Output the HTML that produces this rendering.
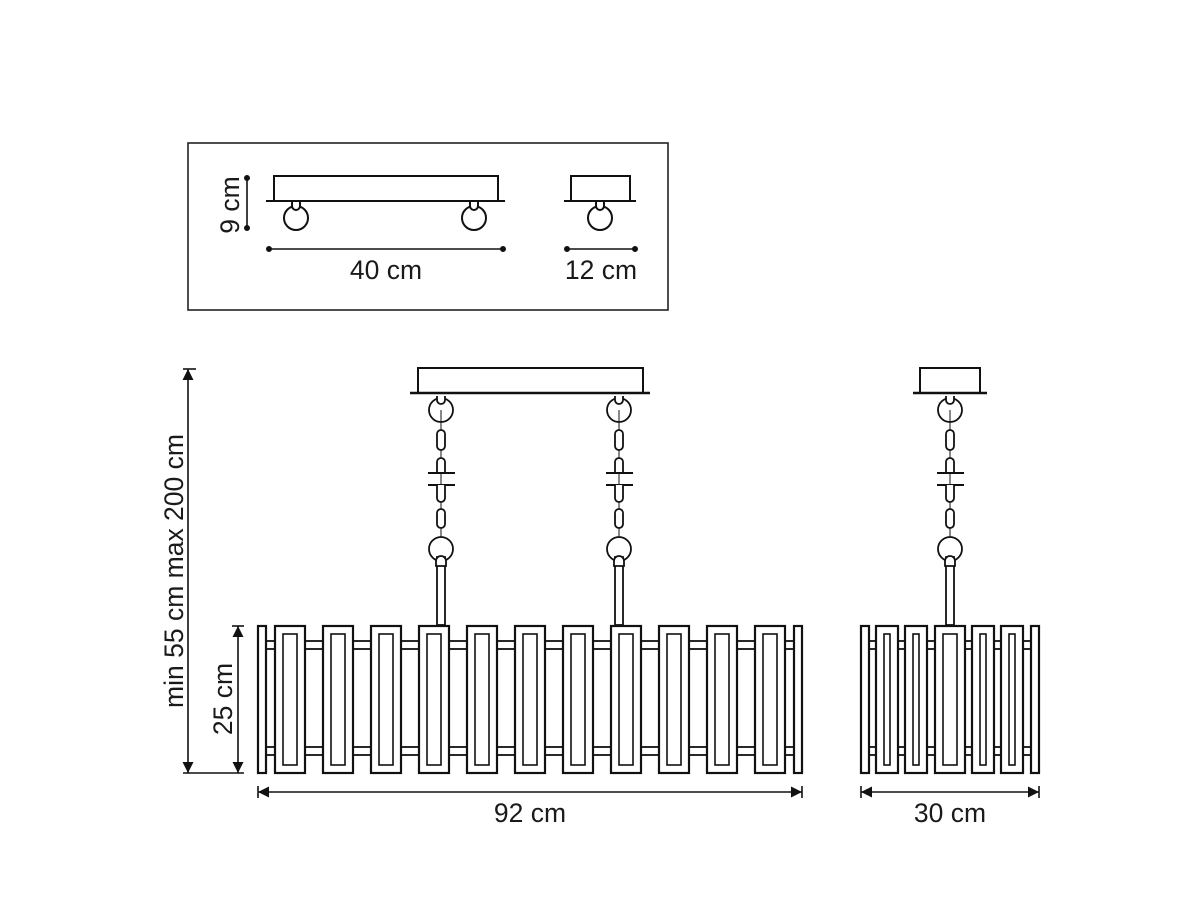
<!DOCTYPE html>
<html><head><meta charset="utf-8"><style>
html,body{margin:0;padding:0;background:#fff;}
svg{display:block;}
text{font-family:"Liberation Sans",sans-serif;fill:#1a1a1a;}
</style></head><body>
<svg width="1200" height="900" viewBox="0 0 1200 900" xmlns="http://www.w3.org/2000/svg">
<defs>
<marker id="ar" viewBox="0 0 10 10" refX="10" refY="5" markerWidth="17" markerHeight="11" markerUnits="userSpaceOnUse" orient="auto-start-reverse"><path d="M0,0 L10,5 L0,10 z" fill="#111"/></marker>
<g id="panel"><rect x="0" y="0" width="30" height="147" fill="#fff" stroke="#111" stroke-width="2.2"/><rect x="8" y="8" width="14" height="131" fill="none" stroke="#111" stroke-width="1.6"/></g>
<g id="spanel"><rect x="0" y="0" width="22" height="147" fill="#fff" stroke="#111" stroke-width="2.2"/><rect x="8" y="8" width="6" height="131" fill="none" stroke="#111" stroke-width="1.6"/></g>
<g id="chain" fill="none" stroke="#111" stroke-width="1.8">
<line x1="0" y1="398" x2="0" y2="625" stroke-width="1"/>
<circle cx="0" cy="410" r="12" fill="#fff"/>
<path d="M-4,396 v4 a4,4 0 0 0 8,0 v-4" fill="#fff"/>
<line x1="0" y1="410" x2="0" y2="430" stroke-width="1"/>
<rect x="-4" y="430" width="8" height="20" rx="4" fill="#fff"/>
<path d="M-4,473 v-11 a4,4 0 0 1 8,0 v11" fill="#fff"/>
<line x1="-13" y1="473" x2="14" y2="473" stroke-width="2"/>
<line x1="-13" y1="485" x2="14" y2="485" stroke-width="2"/>
<path d="M-4,485 v13 a4,4 0 0 0 8,0 v-13" fill="#fff"/>
<rect x="-4" y="509" width="8" height="19" rx="4" fill="#fff"/>
<circle cx="0" cy="549" r="12" fill="#fff"/>
<rect x="-4" y="557" width="8" height="68" fill="#fff"/>
<path d="M-5,566 v-5 a5,5 0 0 1 10,0 v5 z" fill="#fff"/>
</g>
</defs>

<!-- top box -->
<rect x="188" y="143" width="480" height="167" fill="none" stroke="#222" stroke-width="1.6"/>
<g fill="#fff" stroke="#111" stroke-width="2">
<rect x="274" y="176" width="224" height="25"/>
<line x1="266" y1="201" x2="505" y2="201"/>
<circle cx="296" cy="218" r="12"/><path d="M292,202 v4 a4,4 0 0 0 8,0 v-4"/>
<circle cx="474" cy="218" r="12"/><path d="M470,202 v4 a4,4 0 0 0 8,0 v-4"/>
<rect x="571" y="176" width="59" height="25"/>
<line x1="564" y1="201" x2="636" y2="201"/>
<circle cx="600" cy="218" r="12"/><path d="M596,202 v4 a4,4 0 0 0 8,0 v-4"/>
</g>
<g stroke="#111" stroke-width="1.6" fill="#111">
<line x1="247" y1="178" x2="247" y2="228"/><circle cx="247" cy="178" r="2.2"/><circle cx="247" cy="228" r="2.2"/>
<line x1="269" y1="249" x2="503" y2="249"/><circle cx="269" cy="249" r="2.2"/><circle cx="503" cy="249" r="2.2"/>
<line x1="567" y1="249" x2="635" y2="249"/><circle cx="567" cy="249" r="2.2"/><circle cx="635" cy="249" r="2.2"/>
</g>
<text x="386" y="279" font-size="26.5" text-anchor="middle">40 cm</text>
<text x="601" y="279" font-size="26.5" text-anchor="middle">12 cm</text>
<text transform="translate(239,205) rotate(-90)" font-size="26.5" text-anchor="middle">9 cm</text>

<!-- main canopy -->
<rect x="418" y="368" width="225" height="25" fill="#fff" stroke="#111" stroke-width="2"/>
<line x1="410" y1="393" x2="650" y2="393" stroke="#111" stroke-width="2.4"/>
<rect x="920" y="368" width="60" height="25" fill="#fff" stroke="#111" stroke-width="2"/>
<line x1="913" y1="393" x2="987" y2="393" stroke="#111" stroke-width="2.4"/>

<g fill="#fff" stroke="#111" stroke-width="1.8">
<rect x="262" y="641" width="536" height="8"/>
<rect x="262" y="747" width="536" height="8"/>
<rect x="865" y="641" width="170" height="8"/>
<rect x="865" y="747" width="170" height="8"/>
</g>
<use href="#chain" x="441"/>
<use href="#chain" x="619"/>
<use href="#chain" x="950"/>

<rect x="258" y="626" width="8" height="147" fill="#fff" stroke="#111" stroke-width="2.2"/>
<rect x="794" y="626" width="8" height="147" fill="#fff" stroke="#111" stroke-width="2.2"/>
<g transform="translate(0,626)">
<use href="#panel" x="275"/><use href="#panel" x="323"/><use href="#panel" x="371"/><use href="#panel" x="419"/>
<use href="#panel" x="467"/><use href="#panel" x="515"/><use href="#panel" x="563"/><use href="#panel" x="611"/>
<use href="#panel" x="659"/><use href="#panel" x="707"/><use href="#panel" x="755"/>
<use href="#spanel" x="876"/><use href="#spanel" x="905"/><use href="#panel" x="935"/><use href="#spanel" x="972"/><use href="#spanel" x="1001"/>
</g>
<rect x="861" y="626" width="8" height="147" fill="#fff" stroke="#111" stroke-width="2.2"/>
<rect x="1031" y="626" width="8" height="147" fill="#fff" stroke="#111" stroke-width="2.2"/>

<g stroke="#111" stroke-width="1.6">
<line x1="188" y1="369" x2="188" y2="773" marker-start="url(#ar)" marker-end="url(#ar)"/>
<line x1="183" y1="369" x2="196" y2="369"/>
<line x1="183" y1="773" x2="244" y2="773"/>
<line x1="238" y1="626" x2="238" y2="773" marker-start="url(#ar)" marker-end="url(#ar)"/>
<line x1="232" y1="626" x2="244" y2="626"/>
<line x1="258" y1="792" x2="802" y2="792" marker-start="url(#ar)" marker-end="url(#ar)"/>
<line x1="258" y1="786" x2="258" y2="798"/><line x1="802" y1="786" x2="802" y2="798"/>
<line x1="861" y1="792" x2="1039" y2="792" marker-start="url(#ar)" marker-end="url(#ar)"/>
<line x1="861" y1="786" x2="861" y2="798"/><line x1="1039" y1="786" x2="1039" y2="798"/>
</g>
<text x="530" y="822" font-size="26.5" text-anchor="middle">92 cm</text>
<text x="950" y="822" font-size="26.5" text-anchor="middle">30 cm</text>
<text transform="translate(183,571) rotate(-90)" font-size="26.5" text-anchor="middle">min 55 cm max 200 cm</text>
<text transform="translate(232,699) rotate(-90)" font-size="26.5" text-anchor="middle">25 cm</text>
</svg>
</body></html>
